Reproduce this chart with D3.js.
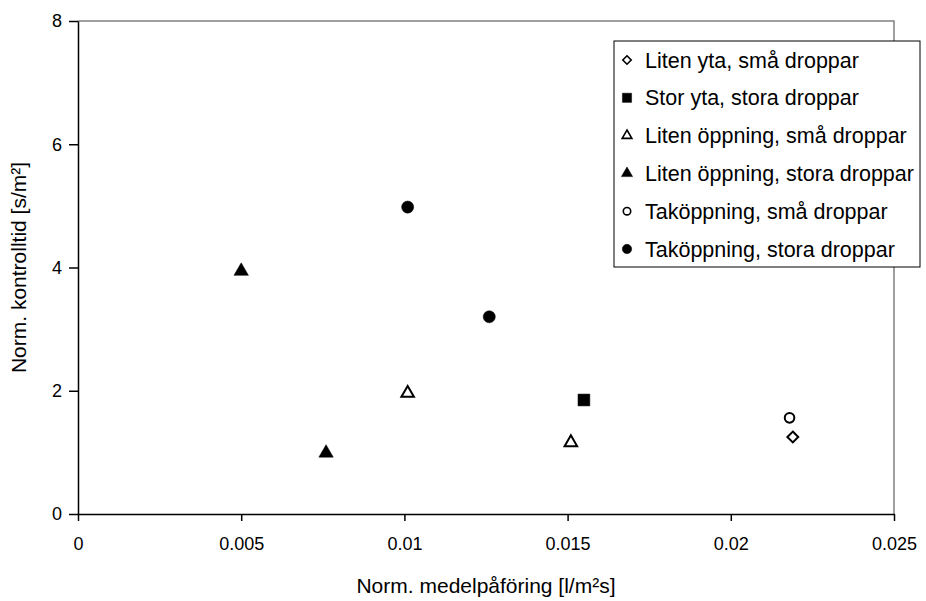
<!DOCTYPE html>
<html>
<head>
<meta charset="utf-8">
<script src="https://cdn.jsdelivr.net/npm/d3@7"></script>
<style>
  body { margin: 0; background: #fff; }
  text { font-family: "Liberation Sans", Arial, sans-serif; fill: #000; }
</style>
</head>
<body>
<svg id="chart" width="926" height="601"></svg>
<script>
// series names, in legend order
var seriesNames = [
    "Liten yta, små droppar",
    "Stor yta, stora droppar",
    "Liten öppning, små droppar",
    "Liten öppning, stora droppar",
    "Taköppning, små droppar",
    "Taköppning, stora droppar"
];
// x values (Norm. medelpåföring) per series
var xValues = [
    [0.0219],
    [0.0155],
    [0.0101, 0.0151],
    [0.0050, 0.0076],
    [0.0218],
    [0.0101, 0.0126]
];
// y values (Norm. kontrolltid) per series
var yValues = [
    [1.25],
    [1.85],
    [1.96, 1.16],
    [3.94, 0.99],
    [1.56],
    [4.98, 3.20]
];
var xTicks = [0, 0.005, 0.01, 0.015, 0.02, 0.025];
var yTicks = [0, 2, 4, 6, 8];

var svg = d3.select("#chart");
var plotLeft = 78, plotRight = 894, plotTop = 21, plotBottom = 514;

var x = d3.scaleLinear().domain([0, 0.025]).range([plotLeft, plotRight]);
var y = d3.scaleLinear().domain([0, 8]).range([plotBottom, plotTop]);

// marker style per series: shape, filled?, size
var markers = [
    {type: d3.symbolDiamond2, fill: false, size: 75},
    {type: d3.symbolSquare, fill: true, size: 140},
    {type: d3.symbolTriangle, fill: false, size: 68},
    {type: d3.symbolTriangle, fill: true, size: 90},
    {type: d3.symbolCircle, fill: false, size: 72},
    {type: d3.symbolCircle, fill: true, size: 115}
];

// plot area border (top and right are grey)
svg.append("path")
    .attr("d", "M" + plotLeft + "," + plotTop + "H" + plotRight + "V" + plotBottom)
    .attr("fill", "none")
    .attr("stroke", "#808080")
    .attr("stroke-width", 1.5);

var xAxis = svg.append("g")
    .attr("transform", "translate(0," + plotBottom + ")")
    .call(d3.axisBottom(x).tickValues(xTicks).tickSize(7).tickSizeOuter(0)
        .tickFormat(function(d) { return d3.format("~g")(d); }));
xAxis.selectAll("text").attr("font-size", 18).attr("y", 23).attr("dy", "0.71em");

var yAxis = svg.append("g")
    .attr("transform", "translate(" + plotLeft + ",0)")
    .call(d3.axisLeft(y).tickValues(yTicks).tickSize(9).tickSizeOuter(0));
yAxis.selectAll("text").attr("font-size", 18).attr("x", -16);

svg.selectAll(".domain, .tick line").attr("stroke", "#000").attr("stroke-width", 1.5);
svg.selectAll(".tick text").attr("font-family", "Liberation Sans, Arial, sans-serif");

// axis titles
svg.append("text")
    .attr("x", (plotLeft + plotRight) / 2)
    .attr("y", 593)
    .attr("text-anchor", "middle")
    .attr("font-size", 21)
    .text("Norm. medelpåföring [l/m²s]");

svg.append("text")
    .attr("transform", "translate(26," + ((plotTop + plotBottom) / 2) + ") rotate(-90)")
    .attr("text-anchor", "middle")
    .attr("font-size", 21)
    .text("Norm. kontrolltid [s/m²]");

// points
seriesNames.forEach(function(name, i) {
    var m = markers[i];
    var pts = xValues[i].map(function(v, j) { return [v, yValues[i][j]]; });
    svg.append("g").selectAll("path")
        .data(pts)
        .enter().append("path")
        .attr("d", d3.symbol().type(m.type).size(m.size))
        .attr("transform", function(d) { return "translate(" + x(d[0]) + "," + y(d[1]) + ")"; })
        .attr("fill", m.fill ? "#000" : "#fff")
        .attr("stroke", "#000")
        .attr("stroke-width", m.fill ? 0.5 : 2);
});

// legend
var legend = svg.append("g").attr("transform", "translate(614,41)");
legend.append("rect")
    .attr("width", 306).attr("height", 226)
    .attr("fill", "#fff").attr("stroke", "#000").attr("stroke-width", 1);

var rows = legend.selectAll("g.row")
    .data(seriesNames)
    .enter().append("g")
    .attr("class", "row")
    .attr("transform", function(d, i) { return "translate(0," + (19 + i * 37.8) + ")"; });

rows.append("path")
    .attr("d", function(d, i) { return d3.symbol().type(markers[i].type).size(markers[i].size * 0.6)(); })
    .attr("transform", "translate(13,0)")
    .attr("fill", function(d, i) { return markers[i].fill ? "#000" : "#fff"; })
    .attr("stroke", "#000")
    .attr("stroke-width", function(d, i) { return markers[i].fill ? 0.5 : 1.6; });

rows.append("text")
    .attr("x", 31)
    .attr("dy", "0.35em")
    .attr("font-size", 21.5)
    .text(function(d) { return d; });
</script>
</body>
</html>
